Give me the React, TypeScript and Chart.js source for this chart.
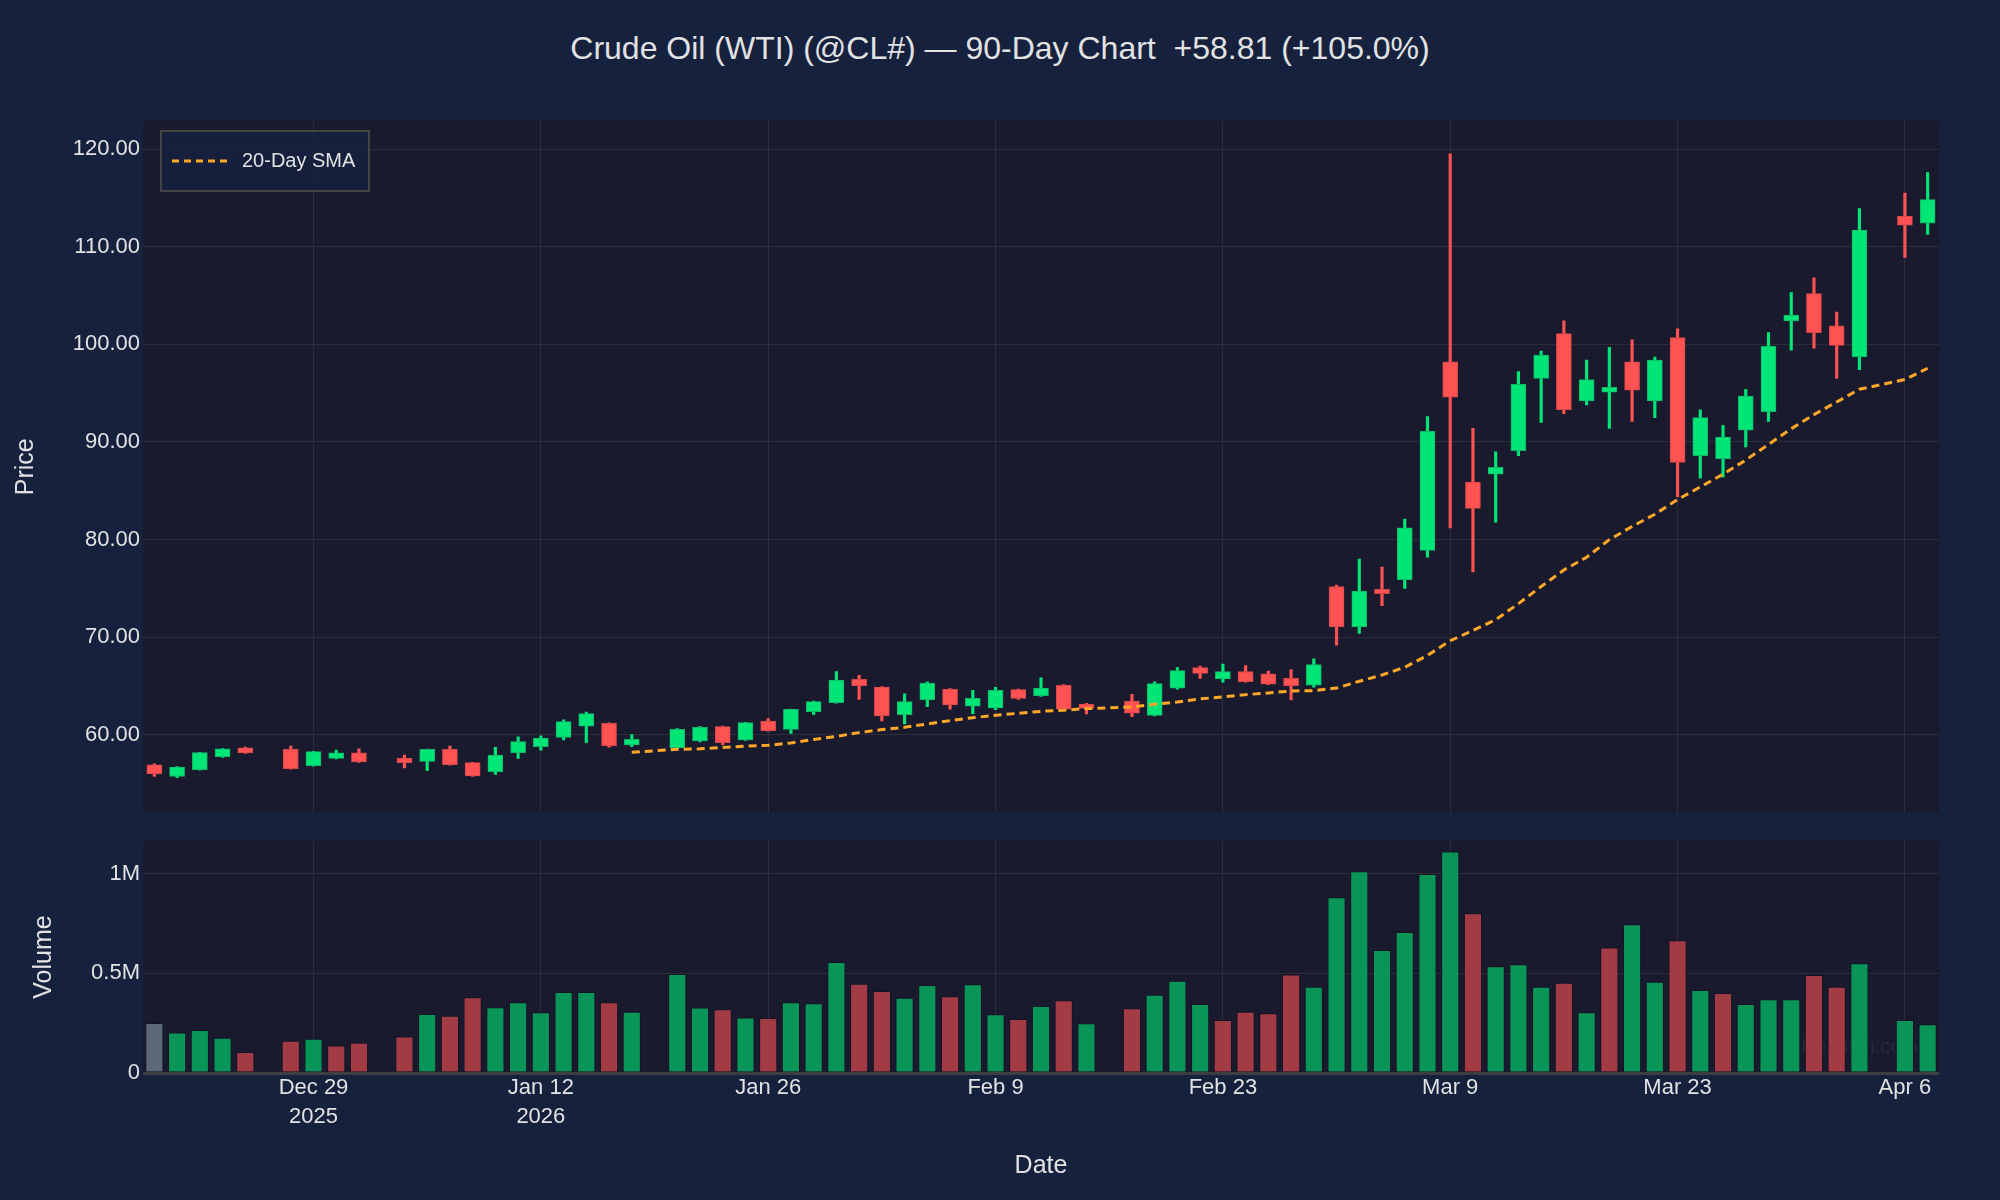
import React, { useEffect, useRef } from 'react';
import { Chart, registerables } from 'chart.js';

Chart.register(...registerables);

const FONT = "'Liberation Sans', Arial, sans-serif";
Chart.defaults.font.family = FONT;

const dates = [
  '2025-12-18','2025-12-19','2025-12-22','2025-12-23','2025-12-24','2025-12-25','2025-12-26','2025-12-29','2025-12-30','2025-12-31',
  '2026-01-01','2026-01-02','2026-01-05','2026-01-06','2026-01-07','2026-01-08','2026-01-09','2026-01-12','2026-01-13','2026-01-14',
  '2026-01-15','2026-01-16','2026-01-19','2026-01-20','2026-01-21','2026-01-22','2026-01-23','2026-01-26','2026-01-27','2026-01-28',
  '2026-01-29','2026-01-30','2026-02-02','2026-02-03','2026-02-04','2026-02-05','2026-02-06','2026-02-09','2026-02-10','2026-02-11',
  '2026-02-12','2026-02-13','2026-02-16','2026-02-17','2026-02-18','2026-02-19','2026-02-20','2026-02-23','2026-02-24','2026-02-25',
  '2026-02-26','2026-02-27','2026-03-02','2026-03-03','2026-03-04','2026-03-05','2026-03-06','2026-03-09','2026-03-10','2026-03-11',
  '2026-03-12','2026-03-13','2026-03-16','2026-03-17','2026-03-18','2026-03-19','2026-03-20','2026-03-23','2026-03-24','2026-03-25',
  '2026-03-26','2026-03-27','2026-03-30','2026-03-31','2026-04-01','2026-04-02','2026-04-03','2026-04-06','2026-04-07',
];

const opens = [
  56.95,55.75,56.45,57.78,58.67,null,58.53,56.86,57.60,58.16,
  null,57.60,57.30,58.53,57.17,56.25,58.19,58.80,59.76,60.90,
  61.20,58.98,null,58.67,59.39,60.85,59.49,61.43,60.58,62.39,
  63.31,65.70,64.91,62.08,63.58,64.68,62.94,62.76,64.64,64.03,
  65.09,63.17,null,63.48,62.01,64.78,66.90,65.73,66.50,66.25,
  65.80,65.10,75.20,71.06,74.90,75.90,78.90,98.20,85.90,86.70,
  89.10,96.50,101.10,94.20,95.10,98.20,94.20,100.70,88.60,88.30,
  91.20,93.10,102.40,105.20,101.90,98.70,null,113.10,112.40,
];

const highs = [
  57.05,56.75,58.22,58.60,58.77,null,58.87,58.32,58.46,58.57,
  null,57.95,58.56,58.87,57.20,58.74,59.80,59.90,61.55,62.35,
  61.25,60.03,null,60.65,60.85,60.90,61.30,61.67,62.66,63.48,
  66.48,66.10,64.95,64.20,65.45,64.75,64.57,64.87,64.70,65.84,
  65.15,63.25,null,64.16,65.43,66.90,67.06,67.27,67.10,66.55,
  66.70,67.80,75.36,78.00,77.20,82.10,92.60,119.50,91.40,89.00,
  97.20,99.30,102.40,98.40,99.70,100.45,98.70,101.60,93.30,91.70,
  95.40,101.20,105.30,106.80,103.30,113.90,null,115.50,117.60,
];

const lows = [
  55.75,55.62,56.40,57.70,58.12,null,56.50,56.80,57.55,57.20,
  null,56.62,56.35,56.90,55.75,55.97,57.60,58.45,59.50,59.20,
  58.75,58.80,null,58.60,59.30,59.00,59.45,60.40,60.17,62.08,
  63.25,63.65,61.43,61.13,62.90,62.65,62.18,62.58,63.65,63.95,
  62.55,62.15,null,61.88,61.95,64.70,65.80,65.40,65.40,65.15,
  63.60,64.90,69.20,70.40,73.25,75.00,78.20,81.20,76.70,81.80,
  88.60,92.00,92.90,93.80,91.40,92.10,92.50,84.40,86.30,86.40,
  89.50,92.10,99.40,99.60,96.50,97.40,null,108.90,111.25,
];

const closes = [
  56.01,56.70,58.19,58.57,58.16,null,56.55,58.29,58.16,57.24,
  null,57.17,58.53,56.96,55.80,57.95,59.32,59.69,61.37,62.20,
  58.87,59.56,null,60.58,60.78,59.20,61.26,60.44,62.63,63.41,
  65.63,65.05,61.95,63.41,65.32,63.07,63.75,64.57,63.75,64.81,
  62.63,62.73,null,62.22,65.26,66.59,66.30,66.48,65.46,65.20,
  65.05,67.20,71.06,74.74,74.47,81.20,91.10,94.60,83.20,87.40,
  95.90,98.90,93.30,96.40,95.60,95.30,98.40,87.90,92.50,90.50,
  94.70,99.80,103.00,101.20,99.90,111.70,null,112.20,114.82,
];

const volumes = [
  250000,202000,214000,175000,104000,null,160000,170000,136000,150000,
  null,182000,294000,286000,379000,328000,354000,303000,405000,405000,
  354000,306000,null,495000,327000,318000,277000,274000,354000,349000,
  556000,446000,410000,376000,440000,384000,444000,293000,269000,335000,
  364000,248000,null,323000,391000,461000,345000,264000,306000,299000,
  493000,432000,881000,1012000,616000,706000,998000,1110000,801000,534000,
  544000,432000,451000,303000,629000,745000,457000,665000,415000,400000,
  345000,369000,369000,491000,432000,549000,null,264000,243000,
];

// 1 = up day, -1 = down day, 0 = first bar (no prior)
const volumeDirection = [
  0,1,1,1,-1,null,-1,1,-1,-1,
  null,-1,1,-1,-1,1,1,1,1,1,
  -1,1,null,1,1,-1,1,-1,1,1,
  1,-1,-1,1,1,-1,1,1,-1,1,
  -1,1,null,-1,1,1,1,-1,-1,-1,
  -1,1,1,1,1,1,1,1,-1,1,
  1,1,-1,1,-1,1,1,-1,1,-1,
  1,1,1,-1,-1,1,null,1,1,
];

const sma20 = [
  null,null,null,null,null,null,null,null,null,null,
  null,null,null,null,null,null,null,null,null,null,
  null,58.23,null,58.53,58.58,58.72,58.86,58.94,59.18,59.54,
  59.86,60.24,60.55,60.78,61.13,61.47,61.77,62.01,62.22,62.42,
  62.53,62.70,null,62.87,63.14,63.37,63.70,63.89,64.13,64.30,
  64.50,64.54,64.80,65.50,66.14,66.93,68.15,69.65,70.70,71.80,
  73.45,75.20,76.90,78.20,80.00,81.35,82.60,84.10,85.40,86.70,
  88.15,89.75,91.36,92.80,94.10,95.40,null,96.40,97.55,
];

const tickDates = ['2025-12-29','2026-01-12','2026-01-26','2026-02-09','2026-02-23','2026-03-09','2026-03-23','2026-04-06'];
const tickTexts: (string | string[])[] = [['Dec 29','2025'],['Jan 12','2026'],'Jan 26','Feb 9','Feb 23','Mar 9','Mar 23','Apr 6'];

const priceTicks = [60, 70, 80, 90, 100, 110, 120];
const volumeTicks = [0, 500000, 1000000];

const titleText = 'Crude Oil (WTI) (@CL#) \u2014 90-Day Chart  +58.81 (+105.0%)';

const PAGE_BG = '#16213e';
const PLOT_BG = '#1a1a2e';
const GRID = '#2d2d39';
const TEXT = '#e2e2e2';
const UP = '#00e676';
const DOWN = '#ff5252';
const UP_EDGE = '#12b86a';
const DOWN_EDGE = '#d84848';
const VOL_UP = '#0a9558';
const VOL_DOWN = '#a33b45';
const VOL_FLAT = '#5b6878';
const SMA_COLOR = '#ffa726';

const AXIS_W = 143;
const RIGHT_PAD = 61;

const plotBg = {
  id: 'plotBg',
  beforeDraw(chart: any) {
    const { ctx, chartArea } = chart;
    ctx.save();
    ctx.fillStyle = PLOT_BG;
    ctx.fillRect(chartArea.left, chartArea.top, chartArea.right - chartArea.left, chartArea.bottom - chartArea.top);
    ctx.restore();
  },
};

const legendBox = {
  id: 'legendBox',
  afterDatasetsDraw(chart: any) {
    const { ctx } = chart;
    ctx.save();
    ctx.fillStyle = 'rgba(22,33,62,0.85)';
    ctx.fillRect(161, 131, 208, 60);
    ctx.strokeStyle = '#444444';
    ctx.lineWidth = 2;
    ctx.strokeRect(161, 131, 208, 60);
    ctx.beginPath();
    ctx.setLineDash([7, 5]);
    ctx.strokeStyle = SMA_COLOR;
    ctx.lineWidth = 3;
    ctx.moveTo(172, 161);
    ctx.lineTo(228, 161);
    ctx.stroke();
    ctx.setLineDash([]);
    ctx.fillStyle = TEXT;
    ctx.font = `20px ${FONT}`;
    ctx.textBaseline = 'middle';
    ctx.textAlign = 'left';
    ctx.fillText('20-Day SMA', 242, 161);
    ctx.restore();
  },
};

const watermark = {
  id: 'watermark',
  beforeDatasetsDraw(chart: any) {
    const { ctx, chartArea } = chart;
    ctx.save();
    ctx.fillStyle = 'rgba(255,255,255,0.06)';
    ctx.font = `20px ${FONT}`;
    ctx.textAlign = 'right';
    ctx.textBaseline = 'middle';
    ctx.fillText('NexusFi.com', chartArea.right - 21, chartArea.bottom - 26);
    ctx.restore();
  },
};

const isTickIndex = (i: number) => tickDates.indexOf(dates[i]) >= 0;
const xGridColor = (c: any) => (isTickIndex(c.index) ? GRID : 'rgba(0,0,0,0)');

export default function App() {
  const priceRef = useRef<HTMLCanvasElement>(null);
  const volRef = useRef<HTMLCanvasElement>(null);

  useEffect(() => {
    const up = (i: number) => (closes[i] as number) >= (opens[i] as number);
    const wickData = dates.map((_, i) => (highs[i] == null ? null : [lows[i], highs[i]]));
    const bodyData = dates.map((_, i) => (opens[i] == null ? null : [opens[i], closes[i]]));

    const priceChart = new Chart(priceRef.current as HTMLCanvasElement, {
      type: 'bar',
      data: {
        labels: dates,
        datasets: [
          {
            type: 'line',
            label: '20-Day SMA',
            data: sma20 as any,
            borderColor: SMA_COLOR,
            borderWidth: 3,
            borderDash: [8, 5],
            pointRadius: 0,
            spanGaps: true,
            tension: 0,
            order: 0,
          } as any,
          {
            label: 'body',
            data: bodyData as any,
            backgroundColor: dates.map((_, i) => (opens[i] == null ? UP : up(i) ? UP : DOWN)),
            borderColor: dates.map((_, i) => (opens[i] == null ? UP_EDGE : up(i) ? UP_EDGE : DOWN_EDGE)),
            borderWidth: 1,
            borderSkipped: false,
            barThickness: 15,
            grouped: false,
            order: 1,
          } as any,
          {
            label: 'wick',
            data: wickData as any,
            backgroundColor: dates.map((_, i) => (opens[i] == null ? UP : up(i) ? UP : DOWN)),
            borderWidth: 0,
            borderSkipped: false,
            barThickness: 2.5,
            grouped: false,
            order: 2,
          } as any,
        ],
      },
      options: {
        responsive: false,
        animation: false,
        devicePixelRatio: 1,
        layout: { padding: { top: 121, bottom: 17.5, left: 0, right: RIGHT_PAD } },
        plugins: { legend: { display: false }, tooltip: { enabled: false }, title: { display: false } },
        scales: {
          x: {
            type: 'category',
            offset: true,
            grid: { offset: false, color: xGridColor, lineWidth: 1, drawTicks: false },
            border: { display: false },
            ticks: { display: false, autoSkip: false, maxRotation: 0, minRotation: 0 },
            afterFit: (s: any) => { s.height = 0; },
          },
          y: {
            type: 'linear',
            min: 52.06,
            max: 122.87,
            afterFit: (s: any) => { s.width = AXIS_W; },
            afterBuildTicks: (s: any) => { s.ticks = priceTicks.map((v) => ({ value: v })); },
            ticks: {
              color: TEXT,
              font: { size: 22, family: FONT },
              padding: 3,
              callback: (v: any) => Number(v).toFixed(2),
            },
            grid: { color: GRID, lineWidth: 1, drawTicks: false },
            border: { display: false },
            title: {
              display: true,
              text: 'Price',
              color: TEXT,
              font: { size: 25, family: FONT },
              padding: { top: 11, bottom: 0 },
            },
          },
        },
      } as any,
      plugins: [plotBg, legendBox],
    });

    const volChart = new Chart(volRef.current as HTMLCanvasElement, {
      type: 'bar',
      data: {
        labels: dates,
        datasets: [
          {
            label: 'Volume',
            data: volumes as any,
            backgroundColor: volumeDirection.map((d) => (d === 1 ? VOL_UP : d === -1 ? VOL_DOWN : VOL_FLAT)),
            borderColor: 'rgba(10,10,20,0.35)',
            borderWidth: 1,
            borderSkipped: 'bottom',
            barThickness: 17.5,
          } as any,
        ],
      },
      options: {
        responsive: false,
        animation: false,
        devicePixelRatio: 1,
        layout: { padding: { top: 21, bottom: 0, left: 0, right: RIGHT_PAD } },
        plugins: { legend: { display: false }, tooltip: { enabled: false }, title: { display: false } },
        scales: {
          x: {
            type: 'category',
            offset: true,
            grid: { offset: false, color: xGridColor, lineWidth: 1, drawTicks: false },
            border: { display: false },
            ticks: {
              autoSkip: false,
              maxRotation: 0,
              minRotation: 0,
              padding: 1,
              color: TEXT,
              font: { size: 22, family: FONT, lineHeight: 1.3 },
              callback: (_v: any, i: number) => {
                const k = tickDates.indexOf(dates[i]);
                return k >= 0 ? tickTexts[k] : '';
              },
            },
            title: {
              display: true,
              text: 'Date',
              color: TEXT,
              font: { size: 25, family: FONT },
              padding: { top: 0, bottom: 19 },
            },
            afterFit: (s: any) => { s.height = 127; },
          },
          y: {
            type: 'linear',
            min: 0,
            max: 1165000,
            afterFit: (s: any) => { s.width = AXIS_W; },
            afterBuildTicks: (s: any) => { s.ticks = volumeTicks.map((v) => ({ value: v })); },
            ticks: {
              color: TEXT,
              font: { size: 22, family: FONT },
              padding: 3,
              callback: (v: any) => (Number(v) === 0 ? '0' : `${Number(v) / 1e6}M`),
            },
            grid: {
              color: (c: any) => (c.tick && c.tick.value === 0 ? '#3d3d42' : GRID),
              lineWidth: (c: any) => (c.tick && c.tick.value === 0 ? 3 : 1),
              drawTicks: false,
            },
            border: { display: false },
            title: {
              display: true,
              text: 'Volume',
              color: TEXT,
              font: { size: 25, family: FONT },
              padding: { top: 29, bottom: 0 },
            },
          },
        },
      } as any,
      plugins: [plotBg, watermark],
    });

    return () => {
      priceChart.destroy();
      volChart.destroy();
    };
  }, []);

  return (
    <div style={{ position: 'absolute', left: 0, top: 0, width: 2000, height: 1200, background: PAGE_BG, overflow: 'hidden' }}>
      <div
        style={{
          position: 'absolute', left: 0, top: 0, width: 2000, height: 97, lineHeight: '97px',
          textAlign: 'center', color: TEXT, fontFamily: FONT, fontSize: 32, whiteSpace: 'pre',
        }}
      >
        {titleText}
      </div>
      <canvas ref={priceRef} width={2000} height={830} style={{ position: 'absolute', left: 0, top: 0, width: 2000, height: 830 }} />
      <canvas ref={volRef} width={2000} height={380} style={{ position: 'absolute', left: 0, top: 820, width: 2000, height: 380 }} />
    </div>
  );
}
